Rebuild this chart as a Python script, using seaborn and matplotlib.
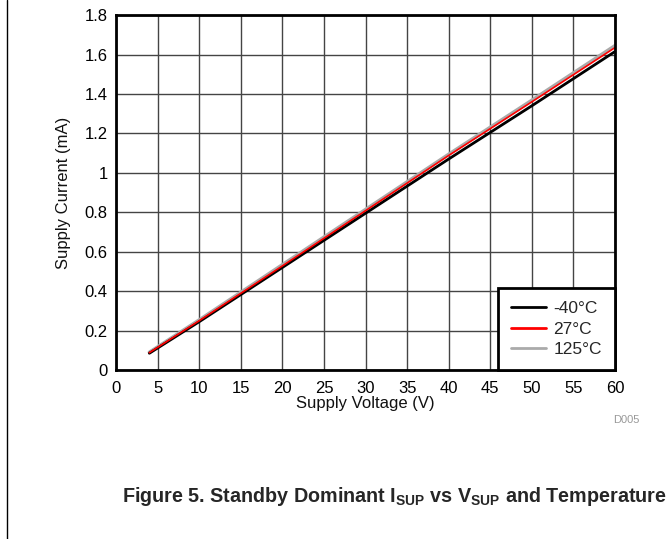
import numpy as np
import pandas as pd
import matplotlib
matplotlib.use("Agg")
import matplotlib.pyplot as plt
from matplotlib.lines import Line2D
import seaborn as sns

# Data
voltage = [4, 10, 20, 30, 40, 50, 60]
i_m40 = [0.085, 0.245, 0.52, 0.795, 1.07, 1.34, 1.615]
i_27 = [0.088, 0.25, 0.528, 0.808, 1.088, 1.36, 1.635]
i_125 = [0.09, 0.254, 0.534, 0.814, 1.094, 1.368, 1.645]
temps = ["-40\u00b0C", "27\u00b0C", "125\u00b0C"]
colors = ["black", "red", "#aaaaaa"]
x_ticks = list(range(0, 61, 5))
y_ticks = [0, 0.2, 0.4, 0.6, 0.8, 1, 1.2, 1.4, 1.6, 1.8]
y_labels = ["0", "0.2", "0.4", "0.6", "0.8", "1", "1.2", "1.4", "1.6", "1.8"]

df = pd.concat([
    pd.DataFrame({"V": voltage, "I": vals, "Temp": t})
    for vals, t in zip([i_m40, i_27, i_125], temps)
])

sns.set_theme(style="white")
plt.rcParams["font.family"] = ["Liberation Sans", "DejaVu Sans"]
plt.rcParams["mathtext.fontset"] = "custom"
plt.rcParams["mathtext.rm"] = "Liberation Sans"
plt.rcParams["mathtext.bf"] = "Liberation Sans:bold"

fig = plt.figure(figsize=(6.71, 5.39), dpi=100)
ax = fig.add_axes([0.173, 0.3135, 0.7435, 0.6585])

# gray first, red last so red sits on top like in the reference
widths = {"125\u00b0C": 2.5, "-40\u00b0C": 2, "27\u00b0C": 1.2}
for t in ["125\u00b0C", "-40\u00b0C", "27\u00b0C"]:
    sub = df[df["Temp"] == t]
    sns.lineplot(data=sub, x="V", y="I", color=colors[temps.index(t)],
                 lw=widths[t], ax=ax, legend=False)

ax.set_xlim(0, 60)
ax.set_ylim(0, 1.8)
ax.set_xticks(x_ticks)
ax.set_xticklabels([str(v) for v in x_ticks])
ax.set_yticks(y_ticks)
ax.set_yticklabels(y_labels)
ax.tick_params(labelsize=12, length=0, colors="black")
ax.tick_params(axis="x", pad=8)
ax.tick_params(axis="y", pad=6)
ax.grid(True, color="#444444", lw=1)
for s in ax.spines.values():
    s.set_color("black")
    s.set_linewidth(2)
ax.set_xlabel("Supply Voltage (V)", fontsize=12, labelpad=0, color="#111111")
ax.set_ylabel("Supply Current (mA)", fontsize=12, labelpad=10, color="#111111")

handles = [Line2D([0], [0], color=c, lw=2) for c in colors]
leg = ax.legend(handles, temps, loc="lower right", fontsize=12.5, frameon=True,
                fancybox=False, framealpha=1, borderaxespad=0,
                handlelength=2, handletextpad=0.45, labelspacing=0.3,
                borderpad=0.75)
leg.get_frame().set_edgecolor("black")
leg.get_frame().set_linewidth(2)

fig.text(0.933, 0.22, "D005", fontsize=8, color="#999999", ha="center", va="center")
fig.text(0.587, 0.078,
         r"Figure 5. Standby Dominant I$_\mathbf{SUP}$ vs V$_\mathbf{SUP}$ and Temperature",
         fontsize=14.2, fontweight="bold", ha="center", va="center")
fig.add_artist(Line2D([0.0105, 0.0105], [0, 1], color="black", lw=1))

fig.savefig("out.png", dpi=100)
